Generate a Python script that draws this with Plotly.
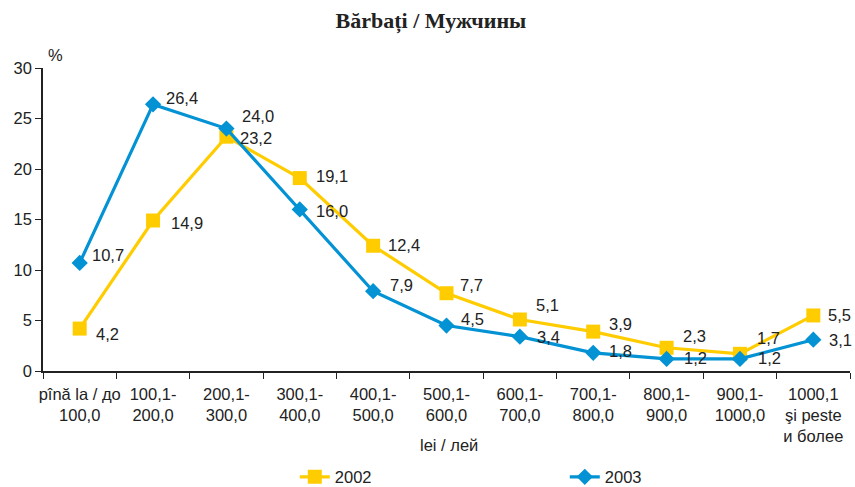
import plotly.graph_objects as go

categories = ["pînă la / до<br>100,0", "100,1-<br>200,0", "200,1-<br>300,0", "300,1-<br>400,0",
              "400,1-<br>500,0", "500,1-<br>600,0", "600,1-<br>700,0", "700,1-<br>800,0",
              "800,1-<br>900,0", "900,1-<br>1000,0", "1000,1<br>şi peste<br>и более"]
values_2002 = [4.2, 14.9, 23.2, 19.1, 12.4, 7.7, 5.1, 3.9, 2.3, 1.7, 5.5]
values_2003 = [10.7, 26.4, 24.0, 16.0, 7.9, 4.5, 3.4, 1.8, 1.2, 1.2, 3.1]

# label offsets (pixels): xshift, yshift (positive = up)
off_2002 = [(14, -5), (16, -2), (12, -1), (14, 2), (13, 1), (11, 8), (14, 14), (14, 8), (14, 12), (15, 16), (13, 0)]
off_2003 = [(10, 8), (11, 6), (14, 13), (14, -2), (15, 6), (12, 7), (15, 0), (14, 2), (15, 1), (16, 1), (14, 0)]

YELLOW = "#FFCC00"
BLUE = "#0392D4"
FONT = "Liberation Sans, Arial, sans-serif"
TXT = "#222222"
FS = 16.5

fig = go.Figure()
fig.add_trace(go.Scatter(x=categories, y=values_2002, name="2002", mode="lines+markers",
                         line=dict(color=YELLOW, width=3.2),
                         marker=dict(symbol="square", size=14, color=YELLOW)))
fig.add_trace(go.Scatter(x=categories, y=values_2003, name="2003", mode="lines+markers",
                         line=dict(color=BLUE, width=3.2),
                         marker=dict(symbol="diamond", size=12.5, color=BLUE)))

def fmt(v):
    return f"{v:.1f}".replace(".", ",")

for vals, offs in ((values_2002, off_2002), (values_2003, off_2003)):
    for c, v, (dx, dy) in zip(categories, vals, offs):
        fig.add_annotation(x=c, y=v, text=fmt(v), showarrow=False, xanchor="left",
                           yanchor="middle", xshift=dx, yshift=dy,
                           font=dict(family=FONT, size=FS, color=TXT))

fig.add_annotation(x=0.016, y=1.043, xref="paper", yref="paper", xanchor="center", yanchor="middle",
                   text="%", showarrow=False, font=dict(family=FONT, size=FS, color=TXT))
fig.add_annotation(x=0.503, y=-0.244, xref="paper", yref="paper", xanchor="center", yanchor="middle",
                   text="lei / лей", showarrow=False, font=dict(family=FONT, size=FS, color=TXT))

fig.update_layout(
    width=855, height=487,
    margin=dict(l=43, r=5, t=68, b=116, autoexpand=False),
    plot_bgcolor="white", paper_bgcolor="white",
    title=dict(text="<b>Bărbați / Мужчины</b>", x=0.504, xanchor="center", y=0.958, yanchor="middle",
               font=dict(family="Liberation Serif, Times New Roman, serif", size=22, color=TXT)),
    xaxis=dict(type="category", tickson="boundaries", ticks="outside", ticklen=6, tickangle=0,
               ticklabelstandoff=7,
               tickcolor=TXT, showline=True, linecolor=TXT, linewidth=1.5, automargin=False,
               showgrid=False, tickfont=dict(family=FONT, size=FS, color=TXT),
               range=[-0.5, 10.5]),
    yaxis=dict(range=[0, 30], dtick=5, ticks="outside", ticklen=6, tickcolor=TXT, automargin=False,
               showline=True, linecolor=TXT, linewidth=1.5, showgrid=False, zeroline=False,
               tickfont=dict(family=FONT, size=FS, color=TXT)),
    showlegend=True,
    legend=dict(orientation="h", x=0.312, xanchor="left", y=-0.35, yanchor="middle",
                entrywidth=225, entrywidthmode="pixels",
                font=dict(family=FONT, size=FS, color=TXT)),
)

fig.write_html("out.html", config={"displayModeBar": False},
               post_script="document.body.style.margin='0';document.body.style.overflow='hidden';")
